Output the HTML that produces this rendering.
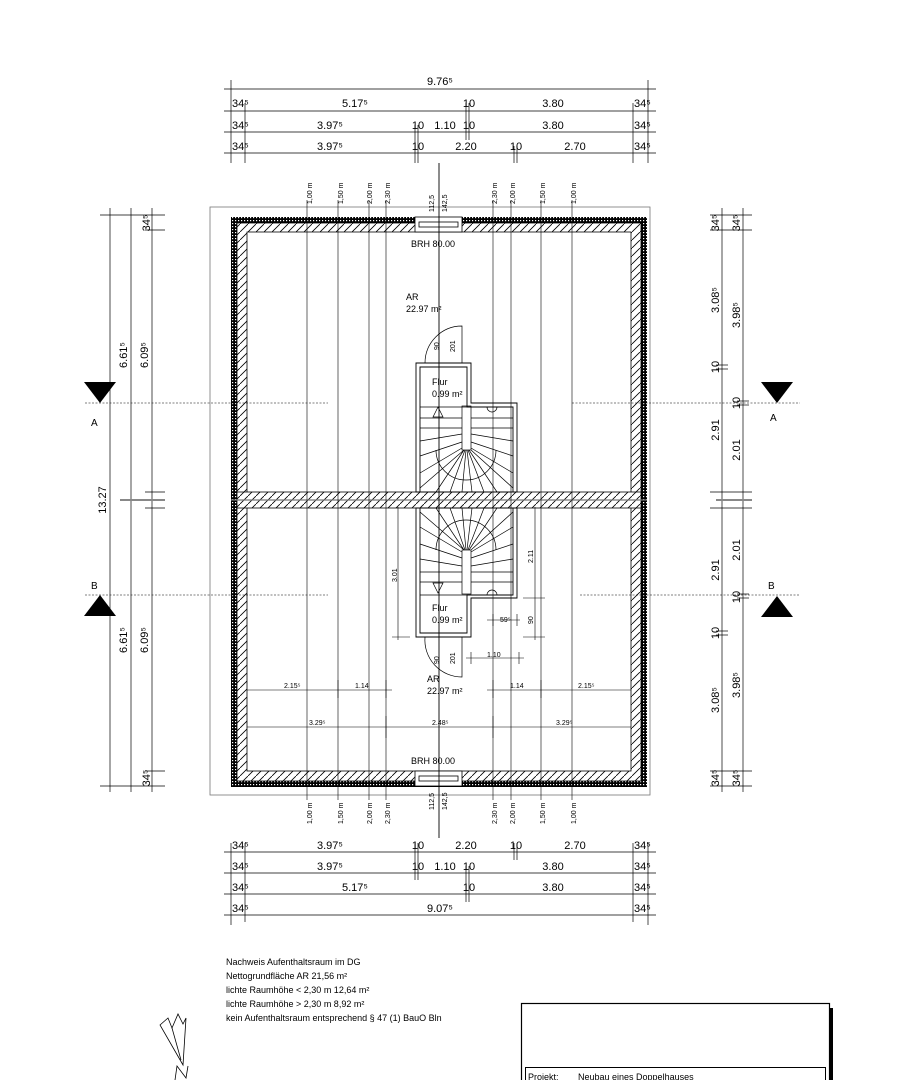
<!DOCTYPE html>
<html><head><meta charset="utf-8"><style>
html,body{margin:0;padding:0;background:#fff}
svg{display:block}
text{font-family:"Liberation Sans",sans-serif;fill:#000}
.d{font-size:11px}
.s{font-size:7px}
.m{font-size:8px}
</style></head><body>
<svg width="897" height="1080" viewBox="0 0 897 1080" xmlns="http://www.w3.org/2000/svg">
<defs>
<pattern id="ins" width="3" height="3" patternUnits="userSpaceOnUse"><rect width="3" height="3" fill="#000"/><rect x="1" y="1" width="1.2" height="1.2" fill="#fff"/></pattern>
<pattern id="hat" width="8" height="8" patternUnits="userSpaceOnUse"><rect width="8" height="8" fill="#fff"/><path d="M0 8 L8 0" stroke="#000" stroke-width="0.8"/></pattern>
</defs>
<g stroke="#000" fill="none" stroke-width="0.8">
<!-- outer sheet box -->
<rect x="210" y="207" width="440" height="588" stroke="#777"/>
</g>
<!-- walls -->
<rect x="231" y="217" width="416" height="570" fill="url(#ins)"/>
<rect x="237" y="223" width="404" height="558" fill="url(#hat)" stroke="#000" stroke-width="0.8"/>
<rect x="247" y="232" width="384" height="539" fill="#fff" stroke="#000" stroke-width="0.8"/>
<!-- middle wall -->
<rect x="237" y="492" width="404" height="16" fill="url(#hat)" stroke="#000" stroke-width="0.8"/>
<line x1="231" y1="500" x2="647" y2="500" stroke="#777" stroke-width="1.2"/>
<!-- windows -->
<g fill="#fff" stroke="#000" stroke-width="0.8">
<rect x="415" y="217" width="47" height="15"/><rect x="419" y="222" width="39" height="5"/>
<rect x="415" y="771" width="47" height="15"/><rect x="419" y="776" width="39" height="5"/>
</g>
<!-- stair area -->
<g stroke="#000" fill="#fff" stroke-width="0.9">
<path d="M416 363 H471 V403 H517 V492 H416 Z"/>
<path d="M420 367 H467 V407 H513 V492 H420 Z"/>
<path d="M416 637 H471 V598 H517 V508 H416 Z"/>
<path d="M420 633 H467 V595 H513 V508 H420 Z"/>
</g>
<g stroke="#000" fill="none" stroke-width="0.7">
<line x1="420" y1="407" x2="467" y2="407"/><line x1="420" y1="595" x2="467" y2="595"/>
<!-- upper stair -->
<rect x="462" y="406" width="9" height="44"/>
<path d="M420 418 H462 M420 428 H462 M420 441 L462 434 M420 456 L462 442 M420 473 L462 448 M420 488 L464 450 M436 492 L464 450 M450 492 L465 450 M462 492 L466 450 M472 492 L467 450 M484 492 L468 450 M497 492 L469 450 M513 488 L471 450 M513 473 L471 448 M513 456 L471 442 M513 441 L471 434 M513 428 H471 M513 418 H471"/>
<path d="M436 450 A30 30 0 0 0 496 450"/>
<path d="M433 417 L438 407 L443 417 Z"/>
<path d="M487 407 A5 5 0 0 0 497 407"/>
<!-- lower stair -->
<rect x="462" y="550" width="9" height="44"/>
<path d="M420 582 H462 M420 572 H462 M420 559 L462 566 M420 544 L462 558 M420 527 L462 552 M420 512 L464 550 M436 508 L464 550 M450 508 L465 550 M462 508 L466 550 M472 508 L467 550 M484 508 L468 550 M497 508 L469 550 M513 512 L471 550 M513 527 L471 552 M513 544 L471 558 M513 559 L471 566 M513 572 H471 M513 582 H471"/>
<path d="M436 550 A30 30 0 0 1 496 550"/>
<path d="M433 583 L438 593 L443 583 Z"/>
<path d="M487 595 A5 5 0 0 1 497 595"/>
<!-- doors -->
<path d="M425 363 A37 37 0 0 1 462 326 V363"/>
<path d="M425 637 A37 37 0 0 0 462 677 V637"/>
</g>
<!-- height lines -->
<g stroke="#000" stroke-width="0.6">
<line x1="307" y1="200" x2="307" y2="800"/><line x1="338" y1="200" x2="338" y2="800"/>
<line x1="369" y1="200" x2="369" y2="800"/><line x1="386" y1="200" x2="386" y2="800"/>
<line x1="493" y1="200" x2="493" y2="800"/><line x1="511" y1="200" x2="511" y2="800"/>
<line x1="541" y1="200" x2="541" y2="800"/><line x1="572" y1="200" x2="572" y2="800"/>
<line x1="439" y1="163" x2="439" y2="838" stroke-width="0.9"/>
</g>
<g class="s">
<text transform="translate(312,204) rotate(-90)">1,00 m</text>
<text transform="translate(343,204) rotate(-90)">1,50 m</text>
<text transform="translate(372,204) rotate(-90)">2,00 m</text>
<text transform="translate(390,204) rotate(-90)">2,30 m</text>
<text transform="translate(434,212) rotate(-90)">112,5</text>
<text transform="translate(447,212) rotate(-90)">142,5</text>
<text transform="translate(497,204) rotate(-90)">2,30 m</text>
<text transform="translate(515,204) rotate(-90)">2,00 m</text>
<text transform="translate(545,204) rotate(-90)">1,50 m</text>
<text transform="translate(576,204) rotate(-90)">1,00 m</text>
<text transform="translate(312,824) rotate(-90)">1,00 m</text>
<text transform="translate(343,824) rotate(-90)">1,50 m</text>
<text transform="translate(372,824) rotate(-90)">2,00 m</text>
<text transform="translate(390,824) rotate(-90)">2,30 m</text>
<text transform="translate(434,810) rotate(-90)">112,5</text>
<text transform="translate(447,810) rotate(-90)">142,5</text>
<text transform="translate(497,824) rotate(-90)">2,30 m</text>
<text transform="translate(515,824) rotate(-90)">2,00 m</text>
<text transform="translate(545,824) rotate(-90)">1,50 m</text>
<text transform="translate(576,824) rotate(-90)">1,00 m</text>
<text transform="translate(439,350) rotate(-90)">90</text>
<text transform="translate(455,352) rotate(-90)">201</text>
<text transform="translate(439,664) rotate(-90)">90</text>
<text transform="translate(455,664) rotate(-90)">201</text>
<text transform="translate(397,582) rotate(-90)">3.01</text>
<text transform="translate(533,563) rotate(-90)">2.11</text>
<text transform="translate(533,624) rotate(-90)">90</text>
<text x="500" y="622">59⁵</text>
<text x="487" y="657">1.10</text>
<text x="284" y="688">2.15⁵</text>
<text x="355" y="688">1.14</text>
<text x="510" y="688">1.14</text>
<text x="578" y="688">2.15⁵</text>
<text x="309" y="725">3.29⁵</text>
<text x="432" y="725">2.48⁵</text>
<text x="556" y="725">3.29⁵</text>
</g>
<!-- inner dims -->
<g stroke="#000" stroke-width="0.6">
<line x1="398" y1="507" x2="398" y2="640"/><line x1="392" y1="637" x2="410" y2="637"/>
<line x1="535" y1="507" x2="535" y2="640"/><line x1="523" y1="598" x2="545" y2="598"/><line x1="523" y1="637" x2="545" y2="637"/>
<line x1="487" y1="620" x2="520" y2="620"/><line x1="493" y1="614" x2="493" y2="626"/><line x1="517" y1="614" x2="517" y2="626"/>
<line x1="466" y1="658" x2="524" y2="658"/><line x1="471" y1="652" x2="471" y2="664"/><line x1="519" y1="652" x2="519" y2="664"/>
<line x1="247" y1="690" x2="392" y2="690"/><line x1="487" y1="690" x2="631" y2="690"/>
<line x1="338" y1="680" x2="338" y2="698"/><line x1="386" y1="680" x2="386" y2="698"/><line x1="493" y1="680" x2="493" y2="698"/><line x1="541" y1="680" x2="541" y2="698"/>
<line x1="247" y1="727" x2="631" y2="727"/>
<line x1="386" y1="716" x2="386" y2="738"/><line x1="493" y1="716" x2="493" y2="738"/>
</g>
<!-- room labels -->
<g class="m" style="font-size:9px">
<text x="406" y="300">AR</text><text x="406" y="312">22.97 m²</text>
<text x="432" y="385">Flur</text><text x="432" y="397">0.99 m²</text>
<text x="432" y="611">Flur</text><text x="432" y="623">0.99 m²</text>
<text x="427" y="682">AR</text><text x="427" y="694">22.97 m²</text>
<text x="411" y="247">BRH 80.00</text>
<text x="411" y="764">BRH 80.00</text>
</g>
<!-- top dims -->
<g stroke="#000" stroke-width="0.7">
<line x1="224" y1="89" x2="656" y2="89"/><line x1="224" y1="111" x2="656" y2="111"/>
<line x1="224" y1="132" x2="656" y2="132"/><line x1="224" y1="153" x2="656" y2="153"/>
<line x1="231" y1="80" x2="231" y2="163"/><line x1="648" y1="80" x2="648" y2="163"/>
<line x1="245" y1="103" x2="245" y2="163"/><line x1="633" y1="103" x2="633" y2="163"/>
<line x1="466" y1="103" x2="466" y2="140"/><line x1="469" y1="103" x2="469" y2="140"/>
<line x1="415" y1="125" x2="415" y2="163"/><line x1="418" y1="125" x2="418" y2="163"/>
<line x1="514" y1="146" x2="514" y2="163"/><line x1="517" y1="146" x2="517" y2="163"/>
<!-- bottom dims -->
<line x1="224" y1="852" x2="656" y2="852"/><line x1="224" y1="873" x2="656" y2="873"/>
<line x1="224" y1="894" x2="656" y2="894"/><line x1="224" y1="915" x2="656" y2="915"/>
<line x1="231" y1="843" x2="231" y2="925"/><line x1="648" y1="843" x2="648" y2="925"/>
<line x1="245" y1="843" x2="245" y2="922"/><line x1="633" y1="843" x2="633" y2="922"/>
<line x1="466" y1="866" x2="466" y2="902"/><line x1="469" y1="866" x2="469" y2="902"/>
<line x1="415" y1="843" x2="415" y2="880"/><line x1="418" y1="843" x2="418" y2="880"/>
<line x1="514" y1="843" x2="514" y2="860"/><line x1="517" y1="843" x2="517" y2="860"/>
<!-- left dims -->
<line x1="110" y1="208" x2="110" y2="792"/><line x1="131" y1="208" x2="131" y2="792"/><line x1="152" y1="208" x2="152" y2="792"/>
<line x1="100" y1="215" x2="165" y2="215"/><line x1="100" y1="786" x2="165" y2="786"/>
<line x1="145" y1="230" x2="165" y2="230"/><line x1="145" y1="771" x2="165" y2="771"/>
<line x1="145" y1="492" x2="165" y2="492"/><line x1="145" y1="508" x2="165" y2="508"/>
<line x1="120" y1="500" x2="165" y2="500" stroke="#888" stroke-width="2"/>
<!-- right dims -->
<line x1="722" y1="208" x2="722" y2="792"/><line x1="743" y1="208" x2="743" y2="792"/>
<line x1="710" y1="215" x2="752" y2="215"/><line x1="710" y1="786" x2="752" y2="786"/>
<line x1="710" y1="230" x2="752" y2="230"/><line x1="710" y1="771" x2="752" y2="771"/>
<line x1="716" y1="365" x2="728" y2="365"/><line x1="716" y1="369" x2="728" y2="369"/>
<line x1="716" y1="631" x2="728" y2="631"/><line x1="716" y1="635" x2="728" y2="635"/>
<line x1="737" y1="401" x2="749" y2="401"/><line x1="737" y1="405" x2="749" y2="405"/>
<line x1="737" y1="594" x2="749" y2="594"/><line x1="737" y1="598" x2="749" y2="598"/>
<line x1="710" y1="492" x2="752" y2="492"/><line x1="710" y1="508" x2="752" y2="508"/>
<line x1="716" y1="500" x2="752" y2="500" stroke="#888" stroke-width="2"/>
</g>
<g class="d">
<text x="440" y="85" text-anchor="middle">9.76⁵</text>
<text x="232" y="107">34⁵</text><text x="355" y="107" text-anchor="middle">5.17⁵</text><text x="469" y="107" text-anchor="middle">10</text><text x="553" y="107" text-anchor="middle">3.80</text><text x="634" y="107">34⁵</text>
<text x="232" y="129">34⁵</text><text x="330" y="129" text-anchor="middle">3.97⁵</text><text x="418" y="129" text-anchor="middle">10</text><text x="445" y="129" text-anchor="middle">1.10</text><text x="469" y="129" text-anchor="middle">10</text><text x="553" y="129" text-anchor="middle">3.80</text><text x="634" y="129">34⁵</text>
<text x="232" y="150">34⁵</text><text x="330" y="150" text-anchor="middle">3.97⁵</text><text x="418" y="150" text-anchor="middle">10</text><text x="466" y="150" text-anchor="middle">2.20</text><text x="516" y="150" text-anchor="middle">10</text><text x="575" y="150" text-anchor="middle">2.70</text><text x="634" y="150">34⁵</text>
<text x="232" y="849">34⁵</text><text x="330" y="849" text-anchor="middle">3.97⁵</text><text x="418" y="849" text-anchor="middle">10</text><text x="466" y="849" text-anchor="middle">2.20</text><text x="516" y="849" text-anchor="middle">10</text><text x="575" y="849" text-anchor="middle">2.70</text><text x="634" y="849">34⁵</text>
<text x="232" y="870">34⁵</text><text x="330" y="870" text-anchor="middle">3.97⁵</text><text x="418" y="870" text-anchor="middle">10</text><text x="445" y="870" text-anchor="middle">1.10</text><text x="469" y="870" text-anchor="middle">10</text><text x="553" y="870" text-anchor="middle">3.80</text><text x="634" y="870">34⁵</text>
<text x="232" y="891">34⁵</text><text x="355" y="891" text-anchor="middle">5.17⁵</text><text x="469" y="891" text-anchor="middle">10</text><text x="553" y="891" text-anchor="middle">3.80</text><text x="634" y="891">34⁵</text>
<text x="232" y="912">34⁵</text><text x="440" y="912" text-anchor="middle">9.07⁵</text><text x="634" y="912">34⁵</text>
<!-- left rotated -->
<text transform="translate(106,500) rotate(-90)" text-anchor="middle">13.27</text>
<text transform="translate(127,355) rotate(-90)" text-anchor="middle">6.61⁵</text>
<text transform="translate(127,640) rotate(-90)" text-anchor="middle">6.61⁵</text>
<text transform="translate(148,355) rotate(-90)" text-anchor="middle">6.09⁵</text>
<text transform="translate(148,640) rotate(-90)" text-anchor="middle">6.09⁵</text>
<text transform="translate(150,223) rotate(-90)" text-anchor="middle">34⁵</text>
<text transform="translate(150,778) rotate(-90)" text-anchor="middle">34⁵</text>
<!-- right rotated -->
<text transform="translate(719,223) rotate(-90)" text-anchor="middle">34⁵</text>
<text transform="translate(740,223) rotate(-90)" text-anchor="middle">34⁵</text>
<text transform="translate(719,778) rotate(-90)" text-anchor="middle">34⁵</text>
<text transform="translate(740,778) rotate(-90)" text-anchor="middle">34⁵</text>
<text transform="translate(719,300) rotate(-90)" text-anchor="middle">3.08⁵</text>
<text transform="translate(740,315) rotate(-90)" text-anchor="middle">3.98⁵</text>
<text transform="translate(719,700) rotate(-90)" text-anchor="middle">3.08⁵</text>
<text transform="translate(740,685) rotate(-90)" text-anchor="middle">3.98⁵</text>
<text transform="translate(719,367) rotate(-90)" text-anchor="middle">10</text>
<text transform="translate(740,403) rotate(-90)" text-anchor="middle">10</text>
<text transform="translate(719,633) rotate(-90)" text-anchor="middle">10</text>
<text transform="translate(740,597) rotate(-90)" text-anchor="middle">10</text>
<text transform="translate(719,430) rotate(-90)" text-anchor="middle">2.91</text>
<text transform="translate(740,450) rotate(-90)" text-anchor="middle">2.01</text>
<text transform="translate(719,570) rotate(-90)" text-anchor="middle">2.91</text>
<text transform="translate(740,550) rotate(-90)" text-anchor="middle">2.01</text>
</g>
<!-- section markers -->
<g stroke="#000" stroke-width="0.6" stroke-dasharray="2,1.5">
<line x1="85" y1="403" x2="328" y2="403"/><line x1="572" y1="403" x2="800" y2="403"/>
<line x1="85" y1="595" x2="328" y2="595"/><line x1="580" y1="595" x2="800" y2="595"/>
</g>
<g fill="#000">
<path d="M84 382 L116 382 L100 403 Z"/><path d="M84 616 L116 616 L100 595 Z"/>
<path d="M761 382 L793 382 L777 403 Z"/><path d="M761 617 L793 617 L777 596 Z"/>
</g>
<g style="font-size:10px">
<text x="91" y="426">A</text><text x="91" y="589">B</text>
<text x="770" y="421">A</text><text x="768" y="589">B</text>
</g>
<!-- notes -->
<g style="font-size:9px">
<text x="226" y="965">Nachweis Aufenthaltsraum im DG</text>
<text x="226" y="979">Nettogrundfläche AR 21,56 m²</text>
<text x="226" y="993">lichte Raumhöhe &lt; 2,30 m 12,64 m²</text>
<text x="226" y="1007">lichte Raumhöhe &gt; 2,30 m   8,92 m²</text>
<text x="226" y="1021">kein Aufenthaltsraum entsprechend § 47 (1) BauO Bln</text>
</g>
<!-- north arrow -->
<g stroke="#000" fill="none" stroke-width="0.8">
<path d="M160 1025 L168 1018 L172 1028 L178 1014 L183 1024 L186 1018 L183 1065 Z"/>
<path d="M172 1028 L181 1060"/>
<path d="M175 1080 L177 1066 L186 1078 L188 1066"/>
</g>
<!-- title block -->
<rect x="829" y="1008" width="4" height="72" fill="#000"/>
<rect x="521.5" y="1003.5" width="308" height="80" fill="#fff" stroke="#000" stroke-width="1.2"/>
<rect x="525.5" y="1067.5" width="300" height="20" fill="none" stroke="#000" stroke-width="1"/>
<text x="528" y="1080" style="font-size:9px">Projekt:</text>
<text x="578" y="1080" style="font-size:9px">Neubau eines Doppelhauses</text>
</svg>
</body></html>
